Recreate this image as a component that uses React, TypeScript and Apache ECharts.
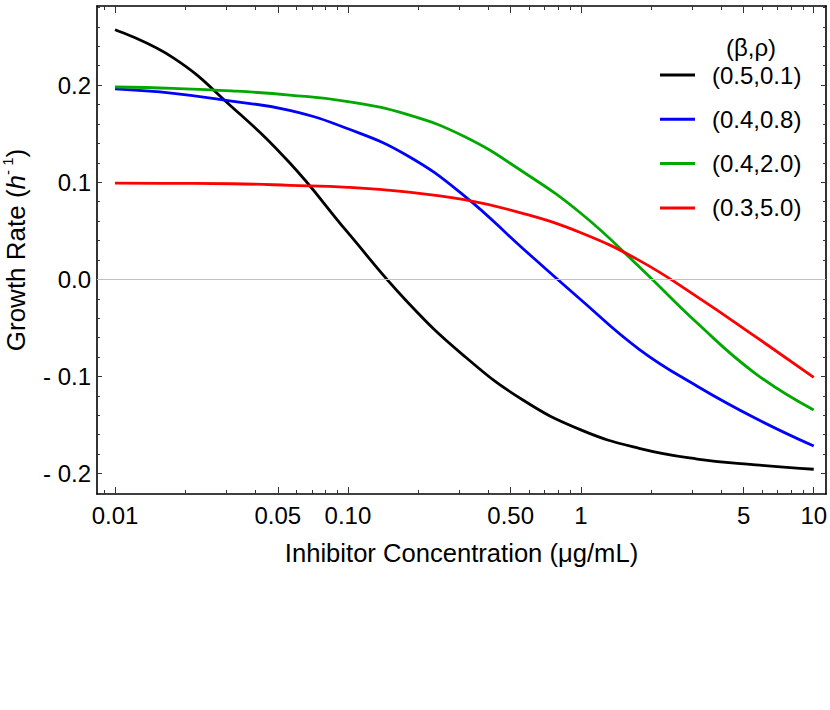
import { useEffect, useRef } from "react";
import * as echarts from "echarts";

// Inhibitor concentration sample points (µg/mL)
const concentrations = [0.01, 0.0178, 0.0316, 0.0562, 0.1, 0.178, 0.316, 0.562, 1, 1.78, 3.16, 5.62, 10];

// Growth rate (1/h) for each (β,ρ) pair
const growthA = [0.257, 0.228, 0.178, 0.12, 0.048, -0.022, -0.079, -0.124, -0.155, -0.174, -0.185, -0.191, -0.1955];
const growthB = [0.196, 0.1915, 0.1835, 0.174, 0.155, 0.128, 0.086, 0.032, -0.021, -0.072, -0.11, -0.143, -0.1716];
const growthC = [0.198, 0.1966, 0.194, 0.1897, 0.183, 0.17, 0.147, 0.111, 0.068, 0.013, -0.045, -0.097, -0.1345];
const growthD = [0.099, 0.0988, 0.0984, 0.0968, 0.0947, 0.09, 0.082, 0.068, 0.048, 0.0195, -0.018, -0.059, -0.1009];

const seriesNames = ["(0.5,0.1)", "(0.4,0.8)", "(0.4,2.0)", "(0.3,5.0)"];
const seriesColors = ["#000000", "#0000ff", "#00a800", "#ff0000"];
const legendTitle = "(β,ρ)";

const xTickValues = [0.01, 0.05, 0.1, 0.5, 1, 5, 10];
const xTickLabels = ["0.01", "0.05", "0.10", "0.50", "1", "5", "10"];
const xMinorTicks = [0.009, 0.02, 0.03, 0.04, 0.06, 0.07, 0.08, 0.09, 0.2, 0.3, 0.4, 0.6, 0.7, 0.8, 0.9, 2, 3, 4, 6, 7, 8, 9];
const yTickValues = [-0.2, -0.1, 0, 0.1, 0.2];
const yTickLabels = ["- 0.2", "- 0.1", "0.0", "0.1", "0.2"];
const yMinorTicks = [-0.18, -0.16, -0.14, -0.12, -0.08, -0.06, -0.04, -0.02, 0.02, 0.04, 0.06, 0.08, 0.12, 0.14, 0.16, 0.18, 0.22, 0.24, 0.26, 0.28];

const xRange = [0.008368, 11.29];
const yRange = [-0.221, 0.2814];

const FONT = '"Liberation Sans", Arial, Helvetica, sans-serif';

export default function App() {
  const ref = useRef<HTMLDivElement>(null);

  useEffect(() => {
    document.body.style.margin = "0";
    if (!ref.current) return;
    const chart = echarts.init(ref.current, undefined, { renderer: "svg" });

    const lx0 = Math.log10(xRange[0]);
    const lx1 = Math.log10(xRange[1]);
    const majorX = xTickValues.map((v) => Math.log10(v));
    const minorX = xMinorTicks.map((v) => Math.log10(v));
    const fmtX = (v: number) => {
      for (let i = 0; i < majorX.length; i++) {
        if (Math.abs(majorX[i] - v) < 1e-6) return xTickLabels[i];
      }
      return "";
    };
    const fmtY = (v: number) => {
      for (let i = 0; i < yTickValues.length; i++) {
        if (Math.abs(yTickValues[i] - v) < 1e-9) return yTickLabels[i];
      }
      return "";
    };

    const frameLine = { show: true, onZero: false, lineStyle: { color: "#000", width: 1.6 } };
    const noLine = { show: false, onZero: false };
    const tickStyle = { color: "#333", width: 1 };

    const tickX = (pos: string, vals: number[], len: number, line: boolean, labels: boolean) => ({
      type: "value",
      min: lx0,
      max: lx1,
      position: pos,
      axisLine: line ? frameLine : noLine,
      splitLine: { show: false },
      axisTick: { show: true, inside: true, length: len, customValues: vals, lineStyle: tickStyle },
      axisLabel: labels
        ? { show: true, customValues: vals, margin: 9, fontSize: 24, fontFamily: FONT, color: "#000", formatter: fmtX }
        : { show: false },
    });
    const tickY = (pos: string, vals: number[], len: number, line: boolean, labels: boolean) => ({
      type: "value",
      min: yRange[0],
      max: yRange[1],
      position: pos,
      axisLine: line ? frameLine : noLine,
      splitLine: { show: false },
      axisTick: { show: true, inside: true, length: len, customValues: vals, lineStyle: tickStyle },
      axisLabel: labels
        ? { show: true, customValues: vals, margin: 6, fontSize: 24, fontFamily: FONT, color: "#000", formatter: fmtY }
        : { show: false },
    });

    const dataSets = [growthA, growthB, growthC, growthD];

    const option: any = {
      animation: false,
      backgroundColor: "#fff",
      grid: { left: 97, right: 4, top: 6, bottom: 216, containLabel: false, outerBoundsMode: "none" },
      xAxis: [
        {
          type: "log",
          logBase: 10,
          min: xRange[0],
          max: xRange[1],
          position: "bottom",
          axisLine: frameLine,
          axisTick: { show: false },
          axisLabel: { show: false },
          splitLine: { show: false },
          name: "Inhibitor Concentration (μg/mL)",
          nameLocation: "middle",
          nameGap: 46,
          nameTextStyle: { fontSize: 25.6, fontFamily: FONT, color: "#000" },
        },
        tickX("bottom", majorX, 7, false, true),
        tickX("bottom", minorX, 4, false, false),
        tickX("top", majorX, 7, true, false),
        tickX("top", minorX, 4, false, false),
      ],
      yAxis: [
        {
          ...tickY("left", yTickValues, 5, true, true),
          name: "Growth Rate ({i|h}{sup|- 1})",
          nameLocation: "middle",
          nameGap: 65,
          nameTextStyle: {
            fontSize: 26,
            fontFamily: FONT,
            color: "#000",
            lineHeight: 32,
            rich: {
              i: { fontStyle: "italic", fontSize: 26, fontFamily: FONT, color: "#000", lineHeight: 32 },
              sup: { fontSize: 15, fontFamily: FONT, color: "#000", verticalAlign: "top", lineHeight: 15 },
            },
          },
        },
        tickY("left", yMinorTicks, 3, false, false),
        tickY("right", yTickValues, 5, true, false),
        tickY("right", yMinorTicks, 3, false, false),
      ],
      legend: {
        data: seriesNames,
        orient: "vertical",
        left: 660,
        top: 63,
        padding: 0,
        itemGap: 20.3,
        itemWidth: 35,
        itemHeight: 3,
        icon: "rect",
        selectedMode: false,
        textStyle: { fontSize: 24, fontFamily: FONT, color: "#000", padding: [0, 0, 0, 12] },
      },
      graphic: [
        {
          type: "text",
          x: 751,
          y: 47,
          style: {
            text: legendTitle,
            fontSize: 24,
            fontFamily: FONT,
            fill: "#000",
            align: "center",
            verticalAlign: "middle",
          },
        },
      ],
      series: [
        {
          type: "line",
          name: "zero",
          z: 1,
          data: [],
          xAxisIndex: 0,
          yAxisIndex: 0,
          markLine: {
            silent: true,
            symbol: "none",
            label: { show: false },
            lineStyle: { color: "#c0c0c0", width: 1, type: "solid" },
            data: [{ yAxis: 0 }],
          },
        },
        ...seriesNames.map((name, k) => ({
          type: "line",
          name,
          xAxisIndex: 0,
          yAxisIndex: 0,
          z: 3,
          smooth: 0.45,
          showSymbol: false,
          symbol: "none",
          color: seriesColors[k],
          lineStyle: { color: seriesColors[k], width: 2.8 },
          data: concentrations.map((c, i) => [c, dataSets[k][i]]),
        })),
      ],
    };

    chart.setOption(option);
    return () => chart.dispose();
  }, []);

  return <div ref={ref} style={{ width: 830, height: 710 }} />;
}
